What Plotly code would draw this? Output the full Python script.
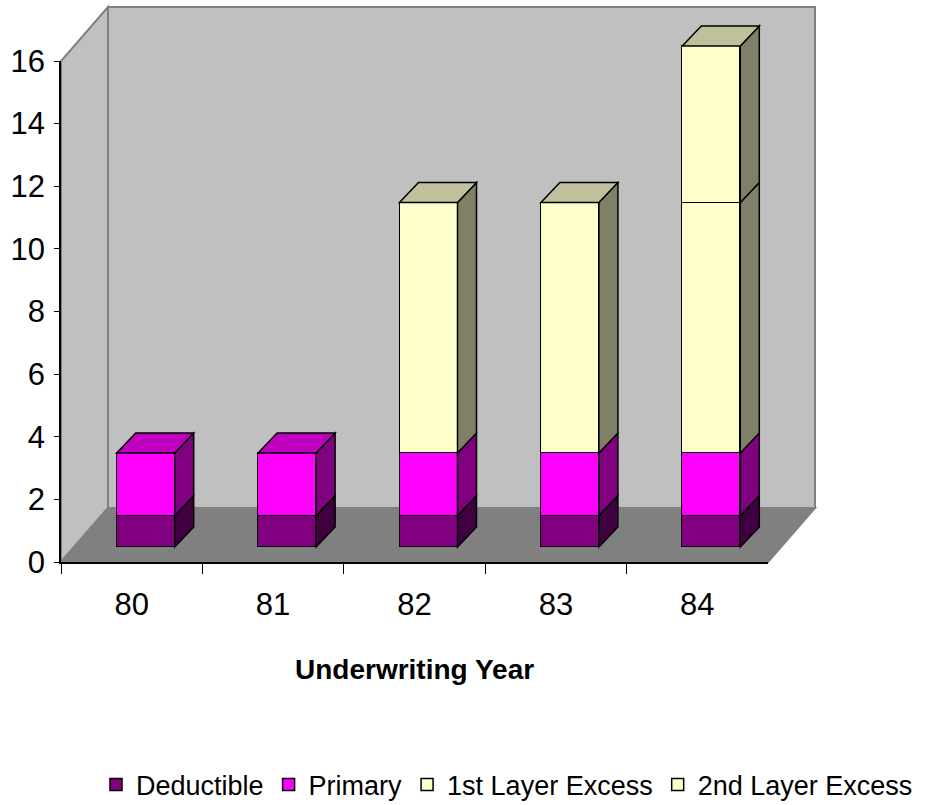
import plotly.graph_objects as go

# ---------------- data ----------------
years = ["80", "81", "82", "83", "84"]
deductible = [1, 1, 1, 1, 1]
primary = [2, 2, 2, 2, 2]
layer1 = [0, 0, 8, 8, 8]
layer2 = [0, 0, 0, 0, 5]
series_names = ["Deductible", "Primary", "1st Layer Excess", "2nd Layer Excess"]
y_ticks = [0, 2, 4, 6, 8, 10, 12, 14, 16]
x_title = "Underwriting Year"

# ---------------- styles ----------------
front_colors = ["#800080", "#FF00FF", "#FFFFCC", "#FFFFCC"]
side_colors = ["#400040", "#800080", "#808066", "#808066"]
top_colors = ["#600060", "#C000C0", "#C0C09A", "#C0C09A"]
FONT = "Liberation Sans, Arial, sans-serif"

W, H = 941, 805
# front-plane geometry in pixels
FX0, FX1 = 61, 768
FY0, FYT = 562, 61
NCAT = len(years)
YMAX = y_ticks[-1]
CW = (FX1 - FX0) / NCAT          # px per category
U = (FY0 - FYT) / YMAX           # px per value unit
BAR_OFF = (14, -15)              # bar front plane offset from front plane (px)
BAR_DEPTH = (19, -20)            # bar depth (px)
FLOOR_DEPTH = (47, -54)          # wall/floor depth (px)
BAR_W = 58 / CW

# bar plane axis (full figure)
bx0 = FX0 + BAR_OFF[0]
by0 = FY0 + BAR_OFF[1]
x_range = [(0 - bx0) / CW - 0.5, (W - bx0) / CW - 0.5]
y_range = [(by0 - H) / U, by0 / U]


def cx(px):
    return (px - bx0) / CW - 0.5


def vy(py):
    return (by0 - py) / U


def path(pts):
    return "M " + " L ".join(f"{x:.5f},{y:.5f}" for x, y in pts) + " Z"


shapes = []
# floor
fl = [(FX0, FY0), (FX1, FY0), (FX1 + FLOOR_DEPTH[0], FY0 + FLOOR_DEPTH[1]),
      (FX0 + FLOOR_DEPTH[0], FY0 + FLOOR_DEPTH[1])]
# left wall
lw = [(FX0, FY0), (FX0, FYT), (FX0 + FLOOR_DEPTH[0], FYT + FLOOR_DEPTH[1]),
      (FX0 + FLOOR_DEPTH[0], FY0 + FLOOR_DEPTH[1])]
# back wall
bw = [(FX0 + FLOOR_DEPTH[0], FY0 + FLOOR_DEPTH[1]), (FX1 + FLOOR_DEPTH[0], FY0 + FLOOR_DEPTH[1]),
      (FX1 + FLOOR_DEPTH[0], FYT + FLOOR_DEPTH[1]), (FX0 + FLOOR_DEPTH[0], FYT + FLOOR_DEPTH[1])]
for poly, fill in [(bw, "#C0C0C0"), (lw, "#C0C0C0"), (fl, "#808080")]:
    shapes.append(dict(type="path", xref="x", yref="y", layer="below",
                       path=path([(cx(a), vy(b)) for a, b in poly]),
                       fillcolor=fill, line=dict(color="#808080", width=2)))

# 3D faces of bars, derived from data
series = [deductible, primary, layer1, layer2]
ddx = BAR_DEPTH[0] / CW
ddy = -BAR_DEPTH[1] / U
for c in range(NCAT):
    base = 0
    last = None
    xl = c - BAR_W / 2
    xr = c + BAR_W / 2
    for s, vals in enumerate(series):
        v = vals[c]
        if not v:
            continue
        y0, y1 = base, base + v
        shapes.append(dict(type="path", xref="x", yref="y", layer="above",
                           path=path([(xr, y0), (xr + ddx, y0 + ddy), (xr + ddx, y1 + ddy), (xr, y1)]),
                           fillcolor=side_colors[s], line=dict(color="black", width=1.5)))
        base = y1
        last = s
    shapes.append(dict(type="path", xref="x", yref="y", layer="above",
                       path=path([(xl, base), (xr, base), (xr + ddx, base + ddy), (xl + ddx, base + ddy)]),
                       fillcolor=top_colors[last], line=dict(color="black", width=1.5)))

fig = go.Figure()
for s, (name, vals) in enumerate(zip(series_names, series)):
    fig.add_trace(go.Bar(
        x=list(range(NCAT)), y=[v if v else None for v in vals], name=name,
        width=BAR_W, xaxis="x", yaxis="y",
        marker=dict(color=front_colors[s], line=dict(color="black", width=1.5)),
        hoverinfo="skip"))

# helper trace so the front axes render
fig.add_trace(go.Scatter(x=years, y=[None] * NCAT, xaxis="x2", yaxis="y2",
                         showlegend=False, hoverinfo="skip", mode="markers"))

fig.update_layout(
    width=W, height=H, margin=dict(l=0, r=0, t=0, b=0, autoexpand=False),
    paper_bgcolor="white", plot_bgcolor="rgba(0,0,0,0)",
    barmode="stack", bargap=0, showlegend=True,
    font=dict(family=FONT, color="black"),
    xaxis=dict(domain=[0, 1], range=x_range, visible=False, fixedrange=True),
    yaxis=dict(domain=[0, 1], range=y_range, visible=False, fixedrange=True),
    xaxis2=dict(domain=[FX0 / W, FX1 / W], anchor="y2", type="category",
                categoryorder="array", categoryarray=years, range=[-0.5, NCAT - 0.5],
                tickson="boundaries", ticks="outside", ticklen=10, tickcolor="black",
                tickwidth=1, showline=True, linecolor="black", linewidth=1.5,
                showgrid=False, zeroline=False, ticklabelstandoff=14,
                tickfont=dict(size=31, family=FONT)),
    yaxis2=dict(domain=[1 - FY0 / H, 1 - FYT / H], anchor="x2", range=[0, YMAX],
                tickvals=y_ticks, ticks="outside", ticklen=5, tickcolor="black",
                showline=True, linecolor="black", linewidth=1.5, showgrid=False,
                zeroline=False, ticklabelstandoff=3,
                tickfont=dict(size=31, family=FONT)),
    shapes=shapes,
    annotations=[dict(text=f"<b>{x_title}</b>", x=414.5 / W, y=1 - 669 / H,
                      xref="paper", yref="paper", xanchor="center", yanchor="middle",
                      showarrow=False, font=dict(size=28, family=FONT))],
    legend=dict(orientation="h", x=96 / W, xanchor="left", y=1 - 785 / H,
                yanchor="middle", font=dict(size=27, family=FONT),
                bgcolor="rgba(0,0,0,0)", itemwidth=30, traceorder="normal"),
)

fig.write_html("out.html")
